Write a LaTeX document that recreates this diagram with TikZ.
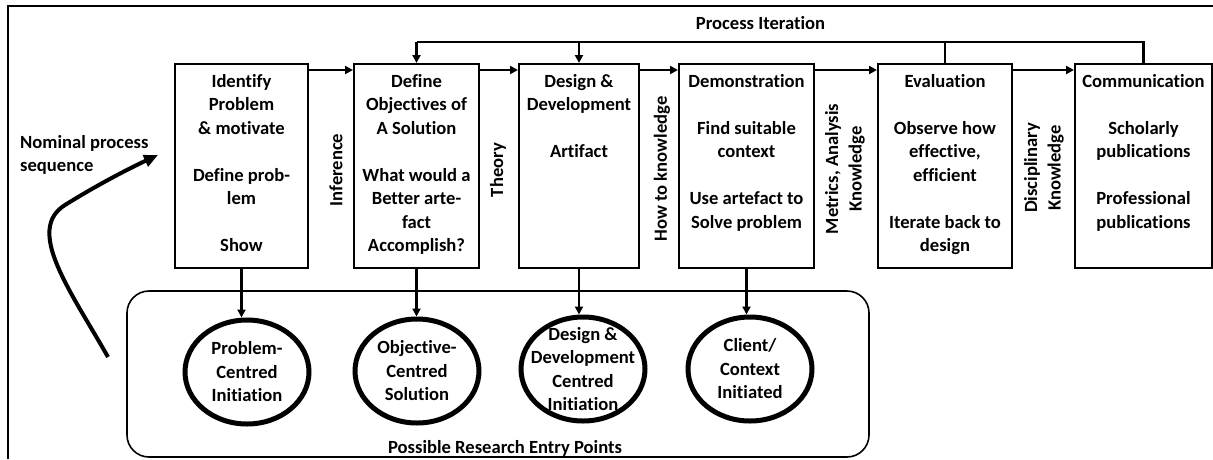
\documentclass[tikz,border=0pt]{standalone}
\usepackage{fontspec}
\setmainfont{Carlito}[RawFeature=-liga, RawFeature=-clig, RawFeature=-calt, RawFeature=-dlig]
\usetikzlibrary{arrows.meta,shapes.geometric}
\begin{document}
\begin{tikzpicture}[x=1pt,y=-1pt,
  font=\bfseries\fontsize{18.6}{23.5}\selectfont,
  procbox/.style={draw, line width=2pt, minimum width=#1, minimum height=204pt, inner sep=0pt},
  btext/.style={anchor=north, inner sep=0pt, align=center},
  vlab/.style={rotate=90, align=center, inner sep=0pt},
  entry/.style={ellipse, draw, line width=5pt, minimum width=124pt, minimum height=104pt, inner sep=0pt},
  etext/.style={align=center, inner sep=0pt},
  arr/.style={line width=2.2pt, -{Triangle[length=8pt,width=8pt]}},
  iterline/.style={line width=2.4pt},
  iterarr/.style={line width=2.4pt, -{Triangle[length=8pt,width=8pt]}},
  bigarr/.style={line width=4pt, -{Triangle[length=14pt,width=12pt]}}
]
\useasboundingbox (0,0) rectangle (1213,459);
% frame
\coordinate (fbl) at (8,459);
\coordinate (ftl) at (8,6);
\coordinate (ftr) at (1213,6);
\draw[line width=2pt] (fbl) -- (ftl) -- (ftr);

% process boxes
\node[procbox=133] (b1) at (241.5,166) {};
\node[procbox=125] (b2) at (416.5,166) {};
\node[procbox=120] (b3) at (579,166) {};
\node[procbox=135] (b4) at (746.5,166) {};
\node[procbox=134] (b5) at (945,166) {};
\node[procbox=137] (b6) at (1143.5,166) {};

% box texts
\node[btext] (t1) at ([yshift=-7.5pt]b1.north) {\strut Identify\\Problem\\\& motivate\\[23.5pt]Define prob-\\lem\\[23.5pt]Show};
\node[btext] (t2) at ([yshift=-7.5pt]b2.north) {\strut Define\\Objectives of\\A Solution\\[23.5pt]What would a\\Better arte-\\fact\\Accomplish?};
\node[btext] (t3) at ([yshift=-7.5pt]b3.north) {\strut Design \&\\Development\\[23.5pt]Artifact};
\node[btext] (t4) at ([yshift=-7.5pt]b4.north) {\strut Demonstration\\[23.5pt]Find suitable\\context\\[23.5pt]Use artefact to\\Solve problem};
\node[btext] (t5) at ([yshift=-7.5pt]b5.north) {\strut Evaluation\\[23.5pt]Observe how\\effective,\\efficient\\[23.5pt]Iterate back to\\design};
\node[btext] (t6) at ([yshift=-7.5pt]b6.north) {\strut Communication\\[23.5pt]Scholarly\\publications\\[23.5pt]Professional\\publications};

% forward arrows
\draw[arr] ([yshift=-7pt]b1.north east) -- ([yshift=-7pt]b2.north west);
\draw[arr] ([yshift=-7pt]b2.north east) -- ([yshift=-7pt]b3.north west);
\draw[arr] ([yshift=-7pt]b3.north east) -- ([yshift=-7pt]b4.north west);
\draw[arr] ([yshift=-7pt]b4.north east) -- ([yshift=-7pt]b5.north west);
\draw[arr] ([yshift=-7pt]b5.north east) -- ([yshift=-7pt]b6.north west);

% vertical labels
\node[vlab] (l1) at (336,170) {Inference};
\node[vlab] (l2) at (498,170) {Theory};
\node[vlab] (l3) at (662,169) {How to knowledge};
\node[vlab] (l4) at (845,169) {Metrics, Analysis\\Knowledge};
\node[vlab] (l5) at (1044,168) {Disciplinary\\Knowledge};

% process iteration
\node[anchor=base, inner sep=0pt] (pit) at (760.5,29) {Process Iteration};
\coordinate (itop) at (0,42);
\draw[iterline] (b6.north) -- (b6.north |- itop) -- (b2.north |- itop);
\draw[iterline] (b5.north) -- (b5.north |- itop);
\draw[iterarr] (b2.north |- itop) -- (b2.north);
\draw[iterarr] (b3.north |- itop) -- (b3.north);

% entry points frame
\node[draw, line width=1.6pt, rounded corners=22pt, minimum width=742pt, minimum height=166pt, inner sep=0pt] (ef) at (498,374) {};
\node[anchor=base, inner sep=0pt] (erp) at (505,453) {Possible Research Entry Points};

% entry ellipses
\node[entry] (c1) at (247,372) {};
\node[entry] (c2) at (417,371) {};
\node[entry] (c3) at (583,369) {};
\node[entry] (c4) at (750,369) {};
\node[etext] (e1) at (c1) {Problem-\\Centred\\Initiation};
\node[etext] (e2) at (c2) {Objective-\\Centred\\Solution};
\node[etext] (e3) at (c3) {Design \&\\Development\\Centred\\Initiation};
\node[etext] (e4) at (c4) {Client/\\Context\\Initiated};

\draw[arr] (b1.south) -- (b1.south |- c1.north);
\draw[arr] (b2.south) -- (b2.south |- c2.north);
\draw[arr] (b3.south) -- (b3.south |- c3.north);
\draw[arr] (b4.south) -- (b4.south |- c4.north);

% nominal process sequence
\node[anchor=north west, inner sep=0pt, align=left] (nps) at (20,131.5) {\strut Nominal process\\sequence};
\coordinate (ns0) at (108,357);
\coordinate (ns1) at (158,155);
\draw[bigarr] (ns0) .. controls (70,290) and (25,230) .. (65,205) .. controls (97,185) and (130,168) .. (ns1);
\end{tikzpicture}
\end{document}
